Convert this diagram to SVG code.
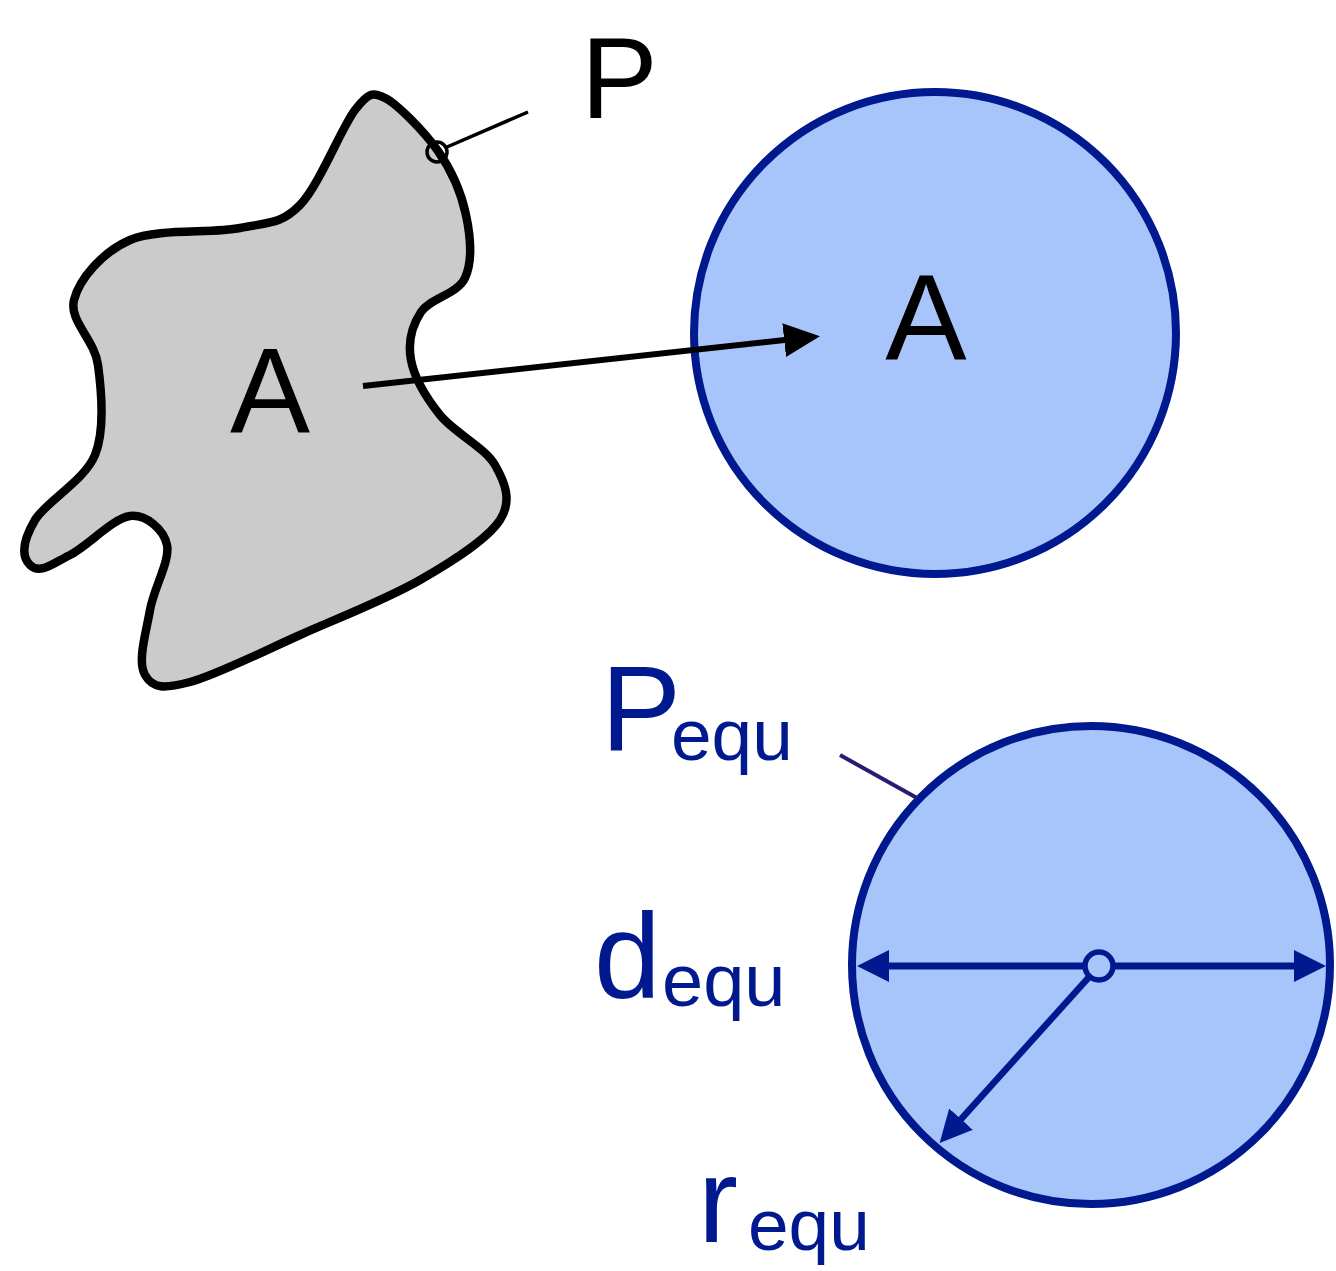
<svg xmlns="http://www.w3.org/2000/svg" width="1336" height="1271" viewBox="0 0 1336 1271">
<style>
.lbl{font-family:"Liberation Sans",Arial,sans-serif}
.blk{fill:#000}
.blu{fill:#00198f}
.circ{fill:#a8c5fb;stroke:#00198f;stroke-width:8}
</style>
<defs>
<marker id="ahBlue" markerUnits="userSpaceOnUse" markerWidth="34" markerHeight="34" refX="24" refY="16" orient="auto-start-reverse">
<path d="M0,0 L32,16 L0,32 Z" fill="#00198f"/>
</marker>
<marker id="ahBlack" markerUnits="userSpaceOnUse" markerWidth="38" markerHeight="36" refX="28" refY="17" orient="auto">
<path d="M0,0 L36,17 L0,34 Z" fill="#000"/>
</marker>
</defs>
<rect width="1336" height="1271" fill="#fff"/>
<g id="shape">
<path d="M385,98 C396.8,103.8 424.2,131.3 438,151 C451.8,170.7 461.5,193.8 466,215 C470.5,236.2 472.5,261.8 465,278 C457.5,294.2 430,298.3 421,312 C412,325.7 407.8,342.8 411,360 C414.2,377.2 426,397.5 440,415 C454,432.5 485,447.5 495,465 C505,482.5 512.5,500.8 500,520 C487.5,539.2 453.3,560.8 420,580 C386.7,599.2 338.3,618 300,635 C261.7,652 215.8,675.3 190,682 C164.2,688.7 153,689 145,675 C137,661 146.3,631.7 150,610 C153.7,588.3 170.3,560.7 167,545 C163.7,529.3 146.2,514.3 130,516 C113.8,517.7 86.7,546.8 70,555 C53.3,563.2 40,575 30,565 C20,555 24.2,538.3 35,520 C45.8,501.7 84.5,480.8 95,455 C105.5,429.2 101.5,390.8 98,365 C94.5,339.2 68.7,320.8 74,300 C79.3,279.2 102.3,252 130,240 C157.7,228 211.7,233.8 240,228 C268.3,222.2 280.8,224.7 300,205 C319.2,185.3 341.2,128 355,110 C368.8,92 373,92 385,98 Z" fill="#cbcbcb" stroke="#000" stroke-width="8.5" stroke-linejoin="round"/>
<text class="lbl blk" x="270" y="432" font-size="120" text-anchor="middle">A</text>
</g>
<g id="p-marker">
<circle cx="437" cy="152" r="10" fill="none" stroke="#000" stroke-width="3.5"/>
<line x1="447" y1="147" x2="528" y2="112" stroke="#000" stroke-width="3.5"/>
<text class="lbl blk" x="581" y="118" font-size="115">P</text>
</g>
<g id="circle-top">
<circle class="circ" cx="935" cy="333" r="241"/>
<text class="lbl blk" x="926" y="360" font-size="122" text-anchor="middle">A</text>
</g>
<g id="circle-bottom">
<circle class="circ" cx="1091" cy="965" r="239"/>
</g>
<g id="connectors">
<line x1="363" y1="386" x2="812" y2="337" stroke="#000" stroke-width="6" marker-end="url(#ahBlack)"/>
<line x1="840" y1="755" x2="917" y2="798" stroke="#2a1a70" stroke-width="4"/>
<line x1="865" y1="966" x2="1318" y2="966" stroke="#00198f" stroke-width="7" marker-start="url(#ahBlue)" marker-end="url(#ahBlue)"/>
<line x1="1099" y1="966" x2="945" y2="1137" stroke="#00198f" stroke-width="6.5" marker-end="url(#ahBlue)"/>
<circle cx="1099" cy="966" r="14" fill="#a8c5fb" stroke="#00198f" stroke-width="5.5"/>
</g>
<g id="labels">
<text class="lbl blu" x="601" y="750" font-size="120">P</text>
<text class="lbl blu" x="671" y="760" font-size="73">equ</text>
<text class="lbl blu" x="594" y="997" font-size="120">d</text>
<text class="lbl blu" x="662" y="1006" font-size="74">equ</text>
<text class="lbl blu" x="698" y="1242" font-size="120">r</text>
<text class="lbl blu" x="748" y="1250" font-size="73">equ</text>
</g>
</svg>
